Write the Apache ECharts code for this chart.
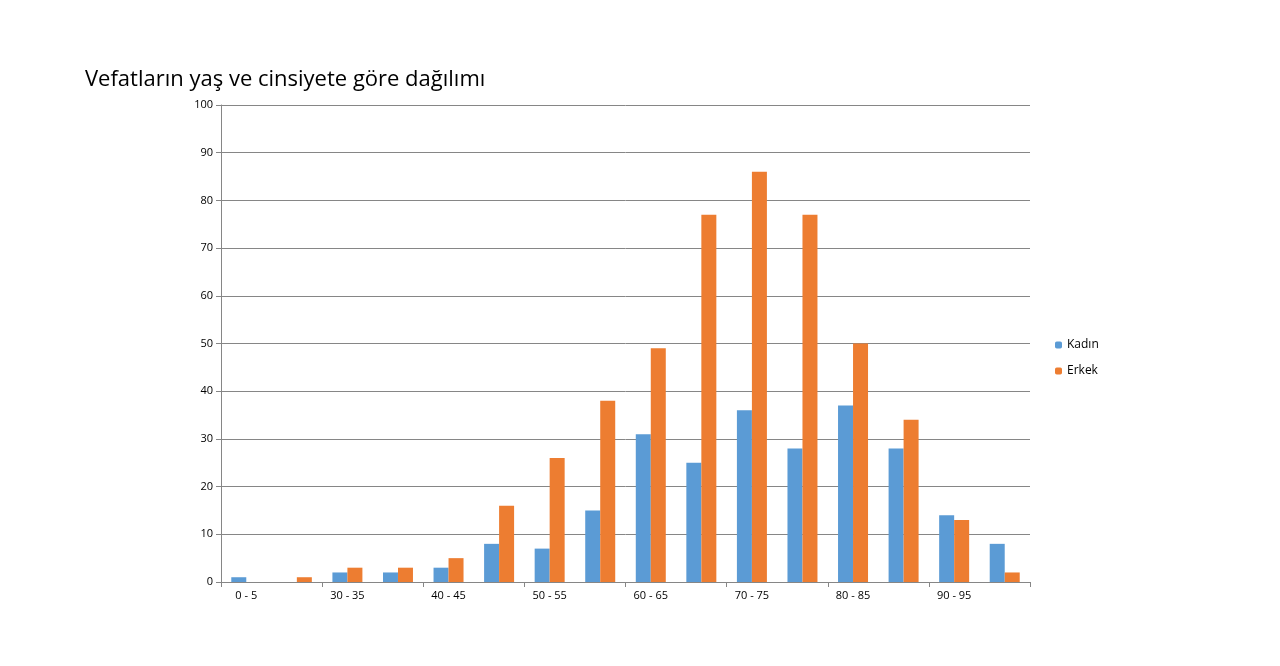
<!DOCTYPE html>
<html>
<head>
<meta charset="utf-8">
<script src="https://cdn.jsdelivr.net/npm/echarts@6/dist/echarts.min.js"></script>
<style>html,body{margin:0;padding:0;background:#fff}#chart{width:1280px;height:666px}</style>
</head>
<body>
<div id="chart"></div>
<script>
const categories = ['0 - 5', '20 - 25', '30 - 35', '35 - 40', '40 - 45', '45 - 50', '50 - 55', '55 - 60',
  '60 - 65', '65 - 70', '70 - 75', '75 - 80', '80 - 85', '85 - 90', '90 - 95', '95 - 100']
const kadin = [1, 0, 2, 2, 3, 8, 7, 15, 31, 25, 36, 28, 37, 28, 14, 8]
const erkek = [0, 1, 3, 3, 5, 16, 26, 38, 49, 77, 86, 77, 50, 34, 13, 2]

const chart = echarts.init(document.getElementById('chart'))

chart.setOption({
  animation: false,
  textStyle: { fontFamily: 'Open Sans' },
  title: {
    text: 'Vefatların yaş ve cinsiyete göre dağılımı',
    left: 80,
    top: 64,
    textStyle: { fontSize: 22, fontWeight: 'normal', color: '#000' }
  },
  legend: {
    orient: 'vertical',
    left: 1050,
    top: 334,
    itemWidth: 7,
    itemHeight: 7,
    itemGap: 14,
    textStyle: { fontSize: 12, color: '#000' },
    data: ['Kadın', 'Erkek']
  },
  grid: { left: 221, right: 250, top: 105, bottom: 84 },
  xAxis: {
    type: 'category',
    data: categories,
    axisLine: { lineStyle: { color: '#868686' } },
    axisTick: { show: true, alignWithLabel: false, lineStyle: { color: '#868686' } },
    axisLabel: { color: '#000', fontSize: 11 }
  },
  yAxis: {
    type: 'value',
    min: 0,
    max: 100,
    interval: 10,
    axisLine: { show: true, lineStyle: { color: '#868686' } },
    axisTick: { show: true, lineStyle: { color: '#868686' } },
    axisLabel: { color: '#000', fontSize: 11 },
    splitLine: { lineStyle: { color: '#868686' } }
  },
  series: [
    { name: 'Kadın', type: 'bar', data: kadin, barWidth: 15, barGap: '0%', itemStyle: { color: '#5b9bd5' } },
    { name: 'Erkek', type: 'bar', data: erkek, barWidth: 15, itemStyle: { color: '#ed7d31' } }
  ]
})
</script>
</body>
</html>
